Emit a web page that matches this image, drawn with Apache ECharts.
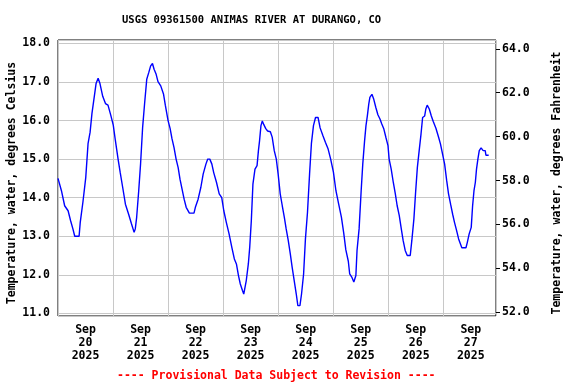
<!DOCTYPE html>
<html>
<head>
<meta charset="utf-8">
<script src="https://cdn.jsdelivr.net/npm/echarts@6/dist/echarts.min.js"></script>
<style>html,body{margin:0;padding:0;background:#fff}#c{width:576px;height:384px}</style>
</head>
<body>
<div id="c"></div>
<script>
// Hours since 2025-09-20 00:00 (local) and water temperature (deg C)
var hours = [0,1.5,2.9,4.4,5.5,6.5,7.3,9.2,9.7,10.9,12.1,13.1,14,14.8,15.7,16.6,17.5,18.3,19.5,20.7,21.8,23,24.1,25,26.2,27.1,28.2,29.4,30.8,32,33.2,33.7,34.3,35.2,36,36.9,37.8,38.7,39.6,40.4,41.2,41.9,42.8,43.6,44.8,46,46.8,48,48.9,49.7,50.6,51.5,52.4,53.2,54.1,55,55.9,56.7,57.3,59.3,59.9,61.1,62.3,63.3,64.5,65.3,66.2,67.1,67.9,69.1,70.3,71.4,72.3,73.4,74.6,75.8,76.9,77.8,78.7,79.5,80.4,81.0,81.7,82.1,83,83.6,84.3,85,85.9,86.8,87.4,87.9,88.5,89.1,89.7,90.6,91.4,92.6,93.4,94.3,95.2,96,96.9,97.8,98.7,99.5,100.4,101.3,102.1,103,103.9,104.6,105.5,106.2,107.1,107.9,108.8,109.7,110.5,111.4,112.3,113.4,114.3,115.5,116.6,117.8,118.9,120.1,121.2,122.4,123.6,124.6,125.5,126.6,127.2,128.1,129,129.9,130.4,131.3,132.2,132.9,133.7,134.3,134.9,135.5,136,136.9,137.7,138.6,139.5,140.4,141.2,142.1,143,143.9,144.4,145.3,146.2,147.1,147.9,148.8,149.7,150.5,151.4,152.3,153.6,154.3,155.2,155.9,156.7,157.5,158.3,159,159.9,160.4,161,161.9,162.8,163.6,164.8,166,166.8,167.7,168.6,169.5,170.3,171.2,172.1,172.9,173.8,174.7,175.5,176.1,177.9,178.5,179.3,180.2,180.8,181.4,182,182.5,183.1,183.7,184.5,185.4,186.3,186.6,187.8];
var tempsC = [14.5,14.18,13.79,13.66,13.4,13.19,13.0,13.0,13.36,13.9,14.52,15.4,15.7,16.18,16.57,16.96,17.1,16.96,16.63,16.44,16.4,16.14,15.88,15.49,15.0,14.66,14.27,13.83,13.57,13.33,13.1,13.19,13.49,14.18,14.87,15.82,16.47,17.07,17.25,17.42,17.48,17.33,17.2,17.01,16.9,16.69,16.4,16.0,15.79,15.53,15.3,15.0,14.78,14.48,14.22,13.96,13.75,13.7,13.6,13.6,13.75,13.96,14.27,14.61,14.87,15.0,15.0,14.87,14.65,14.4,14.1,14.0,13.66,13.36,13.06,12.71,12.41,12.28,11.98,11.76,11.6,11.5,11.5,11.85,12.28,12.71,13.4,14.35,14.74,14.83,15.22,15.48,15.87,15.99,15.9,15.79,15.73,15.71,15.57,15.22,15.0,14.61,14.1,13.79,13.49,13.19,12.89,12.54,12.2,11.85,11.5,11.2,11.2,11.5,12.02,12.93,13.62,14.61,15.4,15.87,16.08,16.08,15.81,15.61,15.44,15.26,15.0,14.66,14.18,13.83,13.49,13.08,12.65,12.35,12.02,11.94,11.81,11.98,12.63,13.19,14.18,14.87,15.48,15.87,16.12,16.42,16.6,16.68,16.55,16.34,16.15,16.04,15.91,15.78,15.56,15.35,15.0,14.74,14.4,14.1,13.79,13.54,13.19,12.89,12.63,12.5,12.5,12.89,13.45,14.1,14.78,15.22,15.65,16.08,16.12,16.3,16.4,16.3,16.12,15.98,15.8,15.56,15.39,15.13,14.87,14.44,14.1,13.83,13.57,13.36,13.15,12.93,12.8,12.7,12.7,12.84,13.06,13.23,13.79,14.18,14.4,14.74,15.0,15.22,15.29,15.22,15.22,15.1,15.1];
var dayLabelHours = [12,36,60,84,108,132,156,180];
var startUTC = Date.UTC(2025, 8, 20);
var monthNames = ['Jan','Feb','Mar','Apr','May','Jun','Jul','Aug','Sep','Oct','Nov','Dec'];

var FONT = 'DejaVu Sans Mono';
var data = hours.map(function (h, i) { return [h, tempsC[i]]; });

var chart = echarts.init(document.getElementById('c'), null, {renderer: 'canvas'});
chart.setOption({
  animation: false,
  backgroundColor: '#ffffff',
  title: {
    text: 'USGS 09361500 ANIMAS RIVER AT DURANGO, CO',
    left: 122, top: 15, padding: 0,
    textStyle: {fontFamily: FONT, fontWeight: 'bold', fontSize: 10.5, color: '#000'}
  },
  graphic: [{
    type: 'text', left: 117, top: 370,
    style: {text: '---- Provisional Data Subject to Revision ----', fill: '#ff0000',
      font: 'bold 11.5px "DejaVu Sans Mono"'}
  }],
  grid: {left: 58, top: 40, width: 438, height: 276, outerBoundsMode: 'none', containLabel: false,
    show: true, borderColor: '#000', borderWidth: 1, backgroundColor: 'transparent'},
  xAxis: [{
    type: 'value', min: 0, max: 191, interval: 24,
    axisLine: {show: false}, axisTick: {show: false},
    splitLine: {show: true, lineStyle: {color: '#c8c8c8', width: 1}},
    axisLabel: {
      show: true, customValues: dayLabelHours, margin: 8,
      fontFamily: FONT, fontWeight: 'bold', fontSize: 11.5, color: '#000', lineHeight: 13,
      formatter: function (v) {
        var d = new Date(startUTC + v * 3600e3);
        return monthNames[d.getUTCMonth()] + '\n' + d.getUTCDate() + '\n' + d.getUTCFullYear();
      }
    }
  }],
  yAxis: [{
    type: 'value', min: 10.93, max: 18.09, splitNumber: 7, position: 'left',
    name: 'Temperature, water, degrees Celsius', nameLocation: 'middle', nameRotate: 90, nameGap: 40,
    nameMoveOverlap: false,
    nameTextStyle: {fontFamily: FONT, fontWeight: 'bold', fontSize: 11.5, color: '#000', padding: [0, 10, 0, 0]},
    axisLine: {show: false}, axisTick: {show: false},
    splitLine: {show: true, lineStyle: {color: '#c8c8c8', width: 1}},
    axisLabel: {showMinLabel: false, showMaxLabel: false, margin: 8, fontFamily: FONT, fontWeight: 'bold', fontSize: 11.5, color: '#000',
      formatter: function (v) { return v.toFixed(1); }}
  }, {
    type: 'value', min: 51.83, max: 64.4, splitNumber: 6, position: 'right',
    name: 'Temperature, water, degrees Fahrenheit', nameLocation: 'middle', nameRotate: 90, nameGap: 55,
    nameTextStyle: {fontFamily: FONT, fontWeight: 'bold', fontSize: 11.5, color: '#000', padding: [0, 10, 0, 0]},
    axisLine: {show: false},
    axisTick: {show: true, inside: false, length: 4, lineStyle: {color: '#000'}},
    splitLine: {show: false},
    axisLabel: {showMinLabel: false, showMaxLabel: false, margin: 6, fontFamily: FONT, fontWeight: 'bold', fontSize: 11.5, color: '#000',
      formatter: function (v) { return v.toFixed(1); }}
  }],
  series: [{
    type: 'line', data: data, xAxisIndex: 0, yAxisIndex: 0,
    showSymbol: false, symbol: 'none',
    lineStyle: {color: '#0000ff', width: 1.4}
  }]
});
</script>
</body>
</html>
